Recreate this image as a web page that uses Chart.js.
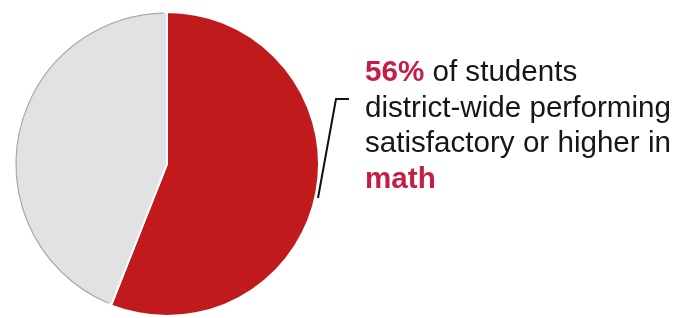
<!DOCTYPE html>
<html>
<head>
<meta charset="utf-8">
<script src="https://cdn.jsdelivr.net/npm/chart.js@4.4.0/dist/chart.umd.min.js"></script>
<style>
	body { margin: 0; background: #ffffff; }
	#wrap { position: relative; width: 689px; height: 318px; overflow: hidden; }
	#pieBox { position: absolute; left: 0; top: 0; width: 689px; height: 318px; }
	#caption {
		position: absolute; left: 365px; top: 53px;
		font-family: "Liberation Sans", Arial, sans-serif;
		font-size: 29.6px; line-height: 35.5px; color: #161616;
		white-space: nowrap;
	}
	#caption b { color: #c41e45; }
</style>
</head>
<body>
<div id="wrap">
	<div id="pieBox"><canvas id="pieChart"></canvas></div>
	<div id="caption"><b>56%</b> of students<br>district-wide performing<br>satisfactory or higher in<br><b>math</b></div>
</div>
<script>
// share of students, math
const labels = ['Satisfactory or higher', 'Below satisfactory'];
const values = [56, 44];
const colors = ['#c11a1d', '#e2e2e4'];

// leader line from the caption to the pie edge, drawn under the pie
const leaderLine = {
	id: 'leaderLine',
	beforeDatasetsDraw(chart)
	{
		const c = chart.ctx;
		c.save();
		c.strokeStyle = '#111111';
		c.lineWidth = 2;
		c.beginPath();
		c.moveTo(349, 99);
		c.lineTo(336, 99);
		c.lineTo(318, 198);
		c.stroke();
		c.restore();
	}
};

// thin grey rim on the outer edge of the grey slice
const greyRim = {
	id: 'greyRim',
	afterDatasetsDraw(chart)
	{
		const arc = chart.getDatasetMeta(0).data[1];
		const p = arc.getProps(['x', 'y', 'startAngle', 'endAngle', 'outerRadius']);
		const c = chart.ctx;
		c.save();
		c.strokeStyle = '#a9a9ab';
		c.lineWidth = 1.2;
		c.beginPath();
		c.arc(p.x, p.y, p.outerRadius - 1, p.startAngle + 0.02, p.endAngle - 0.02);
		c.stroke();
		c.restore();
	}
};

function main()
{
	const ctx = document.getElementById('pieChart').getContext('2d');
	new Chart(ctx, {
		type: 'pie',
		data: {
			labels: labels,
			datasets: [{
				data: values,
				backgroundColor: colors,
				borderColor: '#ffffff',
				borderWidth: 2
			}]
		},
		options: {
			responsive: true,
			maintainAspectRatio: false,
			animation: false,
			layout: { padding: { left: 14, top: 10, bottom: 0, right: 369 } },
			plugins: {
				legend: { display: false },
				tooltip: { enabled: false }
			}
		},
		plugins: [leaderLine, greyRim]
	});
}

main();
</script>
</body>
</html>
